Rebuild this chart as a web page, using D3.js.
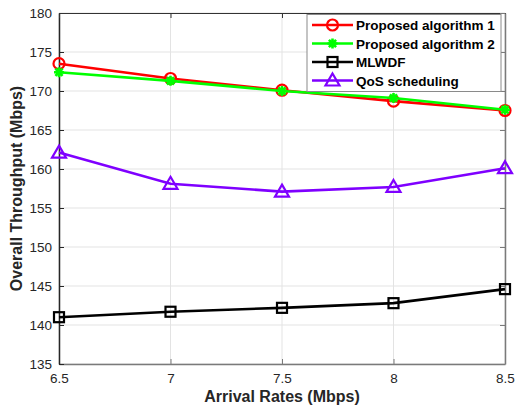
<!DOCTYPE html>
<html>
<head>
<meta charset="utf-8">
<script src="https://cdn.jsdelivr.net/npm/d3@7"></script>
<style>
  body { margin: 0; background: #fff; }
  svg { font-family: "Liberation Sans", Arial, sans-serif; }
</style>
</head>
<body>
<div class="chart"></div>
<script>
// declare global values
const WIDTH = 515;
const HEIGHT = 407;
const MARGIN = { top: 13, right: 10, bottom: 43, left: 59 };

// data
const rates = [6.5, 7, 7.5, 8, 8.5];
const proposed1 = [173.5, 171.6, 170.1, 168.7, 167.5];
const proposed2 = [172.4, 171.3, 170.0, 169.1, 167.6];
const mlwdf = [141.0, 141.7, 142.2, 142.8, 144.6];
const qos = [162.1, 158.1, 157.1, 157.7, 160.1];
const xTicks = [6.5, 7, 7.5, 8, 8.5];
const yTicks = [135, 140, 145, 150, 155, 160, 165, 170, 175, 180];
const seriesNames = ["Proposed algorithm 1", "Proposed algorithm 2", "MLWDF", "QoS scheduling"];

const series = [
  { name: seriesNames[0], values: proposed1, color: "#ff0000", marker: "circle" },
  { name: seriesNames[1], values: proposed2, color: "#00ff00", marker: "star" },
  { name: seriesNames[2], values: mlwdf, color: "#000000", marker: "square" },
  { name: seriesNames[3], values: qos, color: "#7f00ff", marker: "triangle" },
];

const w = WIDTH - MARGIN.left - MARGIN.right;
const h = HEIGHT - MARGIN.top - MARGIN.bottom;

var x = d3.scaleLinear().domain([6.5, 8.5]).range([0, w]);
var y = d3.scaleLinear().domain([135, 180]).range([h, 0]);

var svg = d3
  .select(".chart")
  .append("svg")
  .attr("width", WIDTH)
  .attr("height", HEIGHT)
  .append("g")
  .attr("transform", "translate(" + MARGIN.left + "," + MARGIN.top + ")");

// grid lines
svg
  .append("g")
  .selectAll("line")
  .data(yTicks)
  .join("line")
  .attr("x1", 0)
  .attr("x2", w)
  .attr("y1", (d) => y(d))
  .attr("y2", (d) => y(d))
  .attr("stroke", "#e3e3e3")
  .attr("stroke-width", 1);

svg
  .append("g")
  .selectAll("line")
  .data(xTicks)
  .join("line")
  .attr("x1", (d) => x(d))
  .attr("x2", (d) => x(d))
  .attr("y1", 0)
  .attr("y2", h)
  .attr("stroke", "#e3e3e3")
  .attr("stroke-width", 1);

// axes
svg
  .append("g")
  .attr("transform", `translate(0,${h})`)
  .call(d3.axisBottom(x).tickValues(xTicks).tickSizeInner(-5).tickSizeOuter(0).tickPadding(9).tickFormat(d3.format("")))
  .call((g) => g.select(".domain").attr("stroke", "#7a7a7a").attr("stroke-width", 1.5))
  .call((g) => g.selectAll(".tick line").attr("stroke", "#7a7a7a"))
  .call((g) => g.selectAll(".tick text").attr("font-size", 13.5).attr("fill", "#262626"));

svg
  .append("g")
  .call(d3.axisLeft(y).tickValues(yTicks).tickSizeInner(-5).tickSizeOuter(0).tickPadding(7))
  .call((g) => g.select(".domain").attr("stroke", "#262626").attr("stroke-width", 1.5))
  .call((g) => g.selectAll(".tick line").attr("stroke", "#262626"))
  .call((g) => g.selectAll(".tick text").attr("font-size", 13.5).attr("fill", "#262626"));

// top and right box lines
svg
  .append("g")
  .call(d3.axisTop(x).tickValues(xTicks).tickSizeInner(-5).tickSizeOuter(0).tickFormat(""))
  .call((g) => g.select(".domain").attr("stroke", "#333").attr("stroke-width", 1.2))
  .call((g) => g.selectAll(".tick line").attr("stroke", "#333"));

svg
  .append("g")
  .attr("transform", `translate(${w},0)`)
  .call(d3.axisRight(y).tickValues(yTicks).tickSizeInner(-5).tickSizeOuter(0).tickFormat(""))
  .call((g) => g.select(".domain").attr("stroke", "#7a7a7a").attr("stroke-width", 1.5))
  .call((g) => g.selectAll(".tick line").attr("stroke", "#7a7a7a"));

// axis titles
svg
  .append("text")
  .attr("x", w / 2)
  .attr("y", h + 38)
  .attr("text-anchor", "middle")
  .attr("font-size", 16)
  .attr("font-weight", "bold")
  .attr("fill", "#262626")
  .text("Arrival Rates (Mbps)");

svg
  .append("text")
  .attr("transform", `translate(${-37},${h / 2}) rotate(-90)`)
  .attr("text-anchor", "middle")
  .attr("font-size", 16)
  .attr("font-weight", "bold")
  .attr("fill", "#262626")
  .text("Overall Throughput (Mbps)");

// draw a marker at (cx, cy)
function drawMarker(g, type, color, cx, cy) {
  if (type === "circle") {
    g.append("circle").attr("cx", cx).attr("cy", cy).attr("r", 5.5)
      .attr("fill", "#fff").attr("fill-opacity", 0).attr("stroke", color).attr("stroke-width", 2.2);
  } else if (type === "square") {
    g.append("rect").attr("x", cx - 5).attr("y", cy - 5).attr("width", 10).attr("height", 10)
      .attr("fill", "none").attr("stroke", color).attr("stroke-width", 2.2);
  } else if (type === "triangle") {
    g.append("path")
      .attr("d", `M${cx},${cy - 7}L${cx + 7},${cy + 5}L${cx - 7},${cy + 5}Z`)
      .attr("fill", "none").attr("stroke", color).attr("stroke-width", 2.2).attr("stroke-linejoin", "miter");
  } else if (type === "star") {
    const r = 5;
    const d = r * 0.72;
    g.append("path")
      .attr("d", `M${cx - r},${cy}L${cx + r},${cy}M${cx},${cy - r}L${cx},${cy + r}M${cx - d},${cy - d}L${cx + d},${cy + d}M${cx - d},${cy + d}L${cx + d},${cy - d}`)
      .attr("stroke", color).attr("stroke-width", 2.6);
  }
}

// draw the lines
var valueLine = d3
  .line()
  .x(function (d, i) {
    return x(rates[i]);
  })
  .y(function (d) {
    return y(d);
  });

series.forEach(function (s) {
  var g = svg.append("g");
  g.append("path")
    .datum(s.values)
    .attr("d", valueLine)
    .attr("fill", "none")
    .attr("stroke", s.color)
    .attr("stroke-width", 2.6);
  s.values.forEach(function (v, i) {
    drawMarker(g, s.marker, s.color, x(rates[i]), y(v));
  });
});

// legend
var legend = svg.append("g").attr("transform", `translate(${w - 198},1.5)`);
legend
  .append("rect")
  .attr("width", 194)
  .attr("height", 77)
  .attr("fill", "#fff")
  .attr("stroke", "#8a8a8a")
  .attr("stroke-width", 1);

series.forEach(function (s, i) {
  var cy = 10.5 + i * 18.5;
  var g = legend.append("g");
  g.append("line")
    .attr("x1", 5).attr("x2", 46)
    .attr("y1", cy).attr("y2", cy)
    .attr("stroke", s.color).attr("stroke-width", 2.6);
  drawMarker(g, s.marker, s.color, 25.5, cy);
  g.append("text")
    .attr("x", 49)
    .attr("y", cy + 5)
    .attr("font-size", 13.5)
    .attr("font-weight", "bold")
    .attr("fill", "#000")
    .text(s.name);
});
</script>
</body>
</html>
